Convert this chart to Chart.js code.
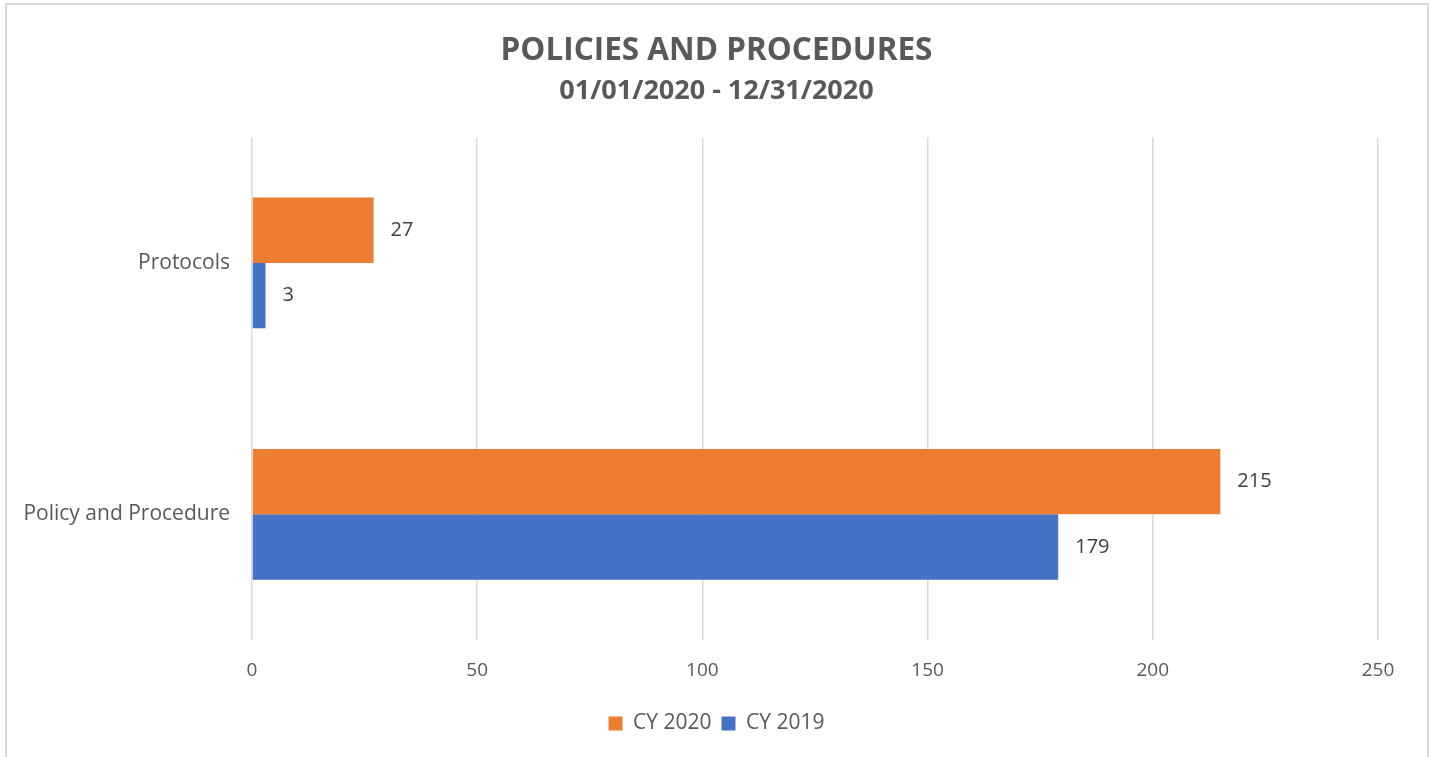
<!DOCTYPE html>
<html>
<head>
<meta charset="utf-8">
<title>Policies and Procedures</title>
<script src="https://cdn.jsdelivr.net/npm/chart.js@4/dist/chart.umd.min.js"></script>
<style>
  html, body { margin: 0; padding: 0; background: #fff; }
  #wrap { position: relative; width: 1433px; height: 757px; overflow: hidden; }
  #frame {
    position: absolute; left: 5px; top: 3px; width: 1420px; height: 780px;
    border: 2px solid #d9d9d9; pointer-events: none;
  }
  canvas { position: absolute; left: 0; top: 0; }
</style>
</head>
<body>
<div id="wrap">
  <canvas id="chart" width="1433" height="757"></canvas>
  <div id="frame"></div>
</div>
<script>
const categories = ['Protocols', 'Policy and Procedure'];
const cy2020 = [27, 215];
const cy2019 = [3, 179];
const xTicks = [0, 50, 100, 150, 200, 250];

const FONT = "'Open Sans', 'Liberation Sans', sans-serif";

// value labels drawn just past the end of each bar
const barValueLabels = {
  id: 'barValueLabels',
  afterDatasetsDraw(chart) {
    const ctx = chart.ctx;
    ctx.save();
    ctx.font = '20px ' + FONT;
    ctx.fillStyle = '#404040';
    ctx.textAlign = 'left';
    ctx.textBaseline = 'middle';
    chart.data.datasets.forEach((ds, i) => {
      const meta = chart.getDatasetMeta(i);
      meta.data.forEach((bar, j) => {
        ctx.fillText(String(ds.data[j]), bar.x + 17, bar.y);
      });
    });
    ctx.restore();
  }
};

new Chart(document.getElementById('chart'), {
  type: 'bar',
  data: {
    labels: categories,
    datasets: [
      { label: 'CY 2020', data: cy2020, backgroundColor: '#ED7D31' },
      { label: 'CY 2019', data: cy2019, backgroundColor: '#4472C4' }
    ]
  },
  options: {
    indexAxis: 'y',
    responsive: false,
    animation: false,
    devicePixelRatio: 1,
    categoryPercentage: 0.52,
    barPercentage: 1,
    layout: { padding: { left: 0, right: 0, top: 0, bottom: 13 } },
    plugins: {
      title: {
        display: true,
        text: 'POLICIES AND PROCEDURES',
        color: '#595959',
        font: { family: FONT, size: 31.5, weight: 'bold', lineHeight: 1.2 },
        padding: { top: 32, bottom: 5 }
      },
      subtitle: {
        display: true,
        text: '01/01/2020 - 12/31/2020',
        color: '#595959',
        font: { family: FONT, size: 27, weight: 'bold', lineHeight: 1.2 },
        padding: { top: 0, bottom: 30 }
      },
      legend: {
        position: 'bottom',
        labels: {
          color: '#595959',
          font: { family: FONT, size: 21 },
          boxWidth: 14,
          boxHeight: 14,
          padding: 10
        }
      },
      tooltip: { enabled: false }
    },
    scales: {
      x: {
        min: 0,
        max: 250,
        afterBuildTicks(scale) {
          scale.ticks = xTicks.map(v => ({ value: v }));
        },
        afterFit(scale) { scale.height = 63; },
        grid: { color: '#d9d9d9', lineWidth: 1.5, drawTicks: false },
        border: { display: false },
        ticks: { color: '#595959', font: { family: FONT, size: 19 }, padding: 19 }
      },
      y: {
        afterFit(scale) { scale.width = 252; },
        grid: { display: false, drawTicks: false },
        border: { display: false },
        ticks: { color: '#595959', font: { family: FONT, size: 21 }, padding: 22 }
      },
      // empty right-hand axis, only reserves the right margin of the plot
      yRight: {
        position: 'right',
        afterFit(scale) { scale.width = 55; },
        grid: { display: false, drawTicks: false },
        border: { display: false },
        ticks: { display: false }
      }
    }
  },
  plugins: [barValueLabels]
});
</script>
</body>
</html>
